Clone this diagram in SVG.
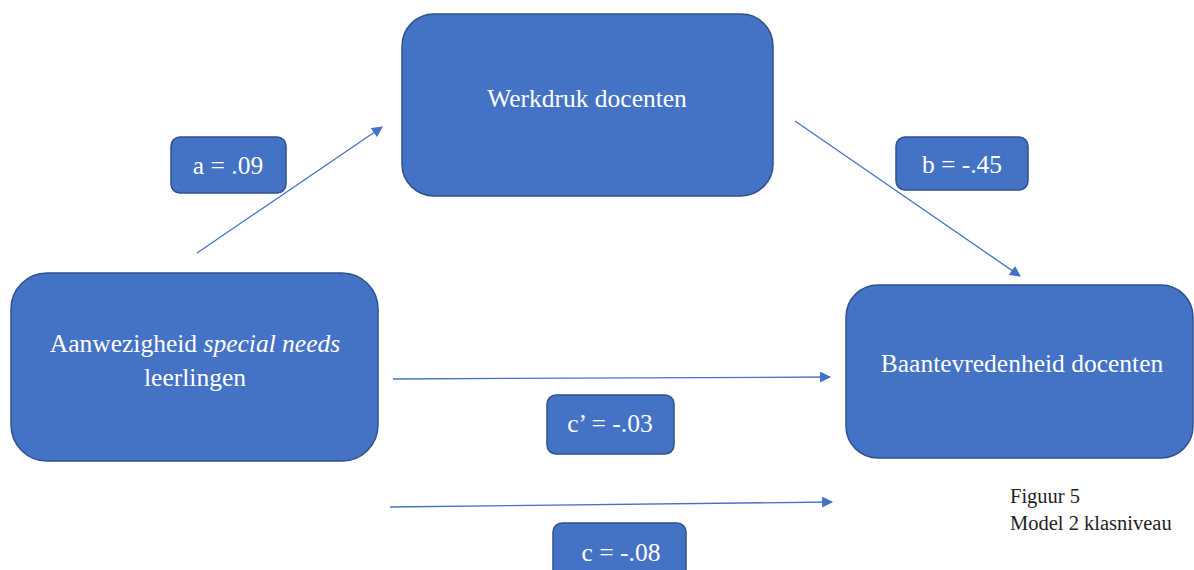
<svg xmlns="http://www.w3.org/2000/svg" width="1194" height="570" viewBox="0 0 1194 570">
<style>
.box{fill:#4472C4;stroke:#2F528F;stroke-width:1.5}
.t{fill:#fff;font-family:'Liberation Serif','Times New Roman',serif;text-anchor:middle;font-size:25.5px}
.conn{stroke:#4472C4;stroke-width:1.3;fill:none;marker-end:url(#ah)}
.cap{fill:#222;font-family:'Liberation Serif','Times New Roman',serif;font-size:20.5px}
</style>
<defs>
<marker id="ah" viewBox="0 0 10 10" refX="9" refY="5" markerWidth="11" markerHeight="11" markerUnits="userSpaceOnUse" orient="auto">
<path d="M0,0 L10,5 L0,10 Z" fill="#4472C4"/>
</marker>
</defs>
<rect width="1194" height="570" fill="#fff"/>
<g id="connectors">
<line class="conn" x1="197" y1="253" x2="382" y2="127"/>
<line class="conn" x1="795" y1="121" x2="1020" y2="276"/>
<line class="conn" x1="393" y1="379" x2="830" y2="377"/>
<line class="conn" x1="390" y1="507" x2="832" y2="502"/>
</g>
<g id="werkdruk">
<rect class="box" x="402" y="14" width="371" height="182" rx="32"/>
<text class="t" x="587" y="107">Werkdruk docenten</text>
</g>
<g id="aanwezigheid">
<rect class="box" x="11" y="273" width="367" height="188" rx="36"/>
<text class="t" x="195" y="352">Aanwezigheid <tspan font-style="italic">special needs</tspan></text>
<text class="t" x="195" y="386">leerlingen</text>
</g>
<g id="baantevredenheid">
<rect class="box" x="846" y="285" width="347" height="173" rx="32"/>
<text class="t" x="1022" y="372">Baantevredenheid docenten</text>
</g>
<g id="label-a">
<rect class="box" x="171" y="137" width="115" height="56" rx="9"/>
<text class="t" x="228" y="174">a = .09</text>
</g>
<g id="label-b">
<rect class="box" x="896" y="137" width="132" height="53" rx="9"/>
<text class="t" x="962" y="173">b = -.45</text>
</g>
<g id="label-c-prime">
<rect class="box" x="547" y="395" width="127" height="59" rx="9"/>
<text class="t" x="610" y="432">c’ = -.03</text>
</g>
<g id="label-c">
<rect class="box" x="553" y="523" width="133" height="56" rx="9"/>
<text class="t" x="621" y="561">c = -.08</text>
</g>
<g id="caption">
<text class="cap" x="1010" y="503">Figuur 5</text>
<text class="cap" x="1010" y="530">Model 2 klasniveau</text>
</g>
</svg>
